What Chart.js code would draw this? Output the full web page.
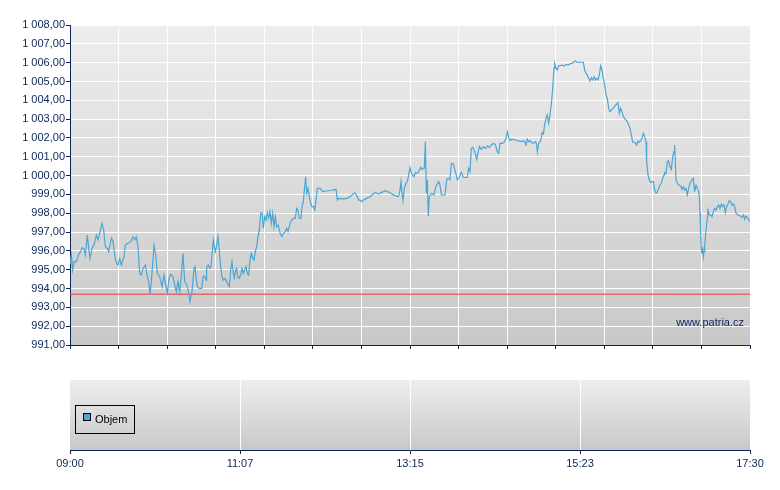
<!DOCTYPE html>
<html>
<head>
<meta charset="utf-8">
<script src="https://cdn.jsdelivr.net/npm/chart.js@4"></script>
<style>
  body { margin: 0; background: #fff; }
  #wrap { position: relative; width: 780px; height: 490px; }
  canvas { position: absolute; left: 0; }
</style>
</head>
<body>
<div id="wrap">
  <canvas id="priceChart" width="780" height="350" style="top:0"></canvas>
  <canvas id="volumeChart" width="780" height="140" style="top:350px"></canvas>
</div>
<script>
// minutes after 09:00 for each trade sample
const minutes = [
  0, 1, 2, 3, 4.75, 6.5, 8, 9, 10.5, 11.5,
  13, 14, 15, 16.5, 18, 19.75, 21, 22.5, 24, 25.25,
  26.5, 28, 29, 31, 32.25, 33.5, 34.75, 36, 37.25, 38.5,
  40.5, 41.5, 43.5, 45.5, 47.25, 48.5, 49.75, 51, 52.25, 53.5,
  54.75, 56.5, 57.75, 59.25, 60, 61, 63, 64.25, 65.5, 67.25,
  69, 70.5, 71.75, 73, 74.25, 75.5, 77.25, 78.5, 79.75, 81,
  82.25, 83.5, 84.75, 86, 87.75, 89, 90, 91.5, 93, 93.75,
  94.5, 95.5, 97, 98.75, 100, 101.25, 102, 102.5, 103.75, 105,
  105.75, 106.5, 107.5, 108.25, 109, 110, 111, 112, 113, 114,
  115, 116.25, 117.5, 118.75, 119.5, 120.5, 121.5, 122.5, 123.25, 124.25,
  125, 125.75, 126.75, 128, 129, 130, 131, 132, 133, 134,
  135, 136, 137, 138, 139, 140, 141, 142, 143, 144,
  145, 146, 147, 148, 149, 150, 151, 152, 153, 154,
  155, 156, 157, 158, 159, 160, 161.5, 162.5, 163.5, 164.5,
  165.5, 166.5, 167.5, 169, 170, 171, 172, 173.25, 174, 175,
  176, 176.75, 177.5, 178.5, 179.5, 180.5, 181.5, 182.5, 183.5, 184.5,
  185.5, 187.5, 189.5, 192.5, 196.25, 199.5, 200.5, 201.5, 205, 207.5,
  210, 212, 213.5, 214.5, 215.5, 216.5, 217.5, 218.75, 220, 222.5,
  225, 227.5, 229, 230, 231.5, 233, 235, 236.5, 238, 240,
  242, 244, 245.5, 246.5, 247.5, 248.25, 249, 249.75, 250.75, 252,
  253, 253.75, 255, 256, 257, 258, 259, 260, 261, 262,
  263, 264, 265, 265.75, 266.5, 267.25, 268, 268.75, 269.5, 271.25,
  273, 274, 275, 276.5, 277.5, 278.5, 279.5, 281.25, 282.5, 284,
  285, 286, 287.5, 289, 290.5, 292, 293.5, 295, 297, 298,
  299, 300, 301, 302, 303, 304, 305, 306, 307, 308.5,
  310, 311.5, 313, 314.5, 316, 317.5, 319, 320.5, 321.5, 322.5,
  324, 325.5, 327, 328, 329, 330, 331.25, 333.75, 336.25, 338.75,
  340.5, 342, 343, 344, 345, 346.25, 347.5, 349, 350, 350.5,
  351.5, 352.5, 353.5, 354, 355, 356, 357, 358, 359, 360,
  361, 362, 363, 363.5, 364.5, 365.5, 366.5, 369, 370.5, 372,
  373.5, 375, 376.5, 378, 379, 380, 381.5, 383, 385, 386,
  387, 388, 389, 390, 391, 392, 393, 394, 395, 396,
  397, 398, 399, 400, 401, 402, 403, 404, 405, 406,
  407, 408, 409, 410, 411, 412, 413, 414, 415, 416,
  417, 418, 419, 420, 421, 422, 423, 424, 425, 426,
  427, 428, 429, 430, 431, 432, 432.5, 433.5, 434.5, 435.5,
  436.5, 437.5, 438.5, 439.5, 440.5, 441.5, 442.5, 443.5, 444.5, 445.5,
  446, 447, 448, 449, 450, 451, 452, 453, 453.5, 454,
  454.5, 455.5, 456.5, 458, 459, 460, 461, 462, 463, 464,
  465, 466.5, 467.5, 468, 468.5, 469.5, 470.5, 471.5, 472, 472.5,
  473, 473.5, 474, 474.5, 475, 475.5, 476, 477, 478, 478.5,
  479.5, 480.5, 481.5, 482.5, 483.5, 484.5, 485.5, 486.5, 487.5, 488.5,
  489.5, 490.5, 491.5, 492.5, 493.5, 494.5, 495.5, 496.5, 497.5, 498.5,
  499.5, 501, 502.5, 504, 505, 506, 507, 508, 509, 510
];

const prices = [
  995.30, 995.78, 994.98, 995.43, 995.43, 995.82, 995.96, 996.17, 996.10, 995.78,
  996.84, 996.13, 995.60, 996.13, 996.31, 996.84, 996.58, 997.02, 997.46, 997.11,
  996.22, 996.13, 995.96, 996.67, 996.52, 995.78, 995.34, 995.25, 995.60, 995.25,
  995.69, 996.31, 996.40, 996.49, 996.76, 996.58, 996.76, 996.22, 994.81, 994.72,
  995.07, 995.25, 994.72, 994.28, 993.66, 994.37, 996.31, 995.78, 994.81, 994.63,
  994.10, 994.72, 994.19, 993.75, 994.54, 994.75, 994.63, 994.19, 993.83, 994.37,
  993.80, 994.72, 995.87, 994.37, 994.19, 993.75, 993.30, 993.83, 995.07, 995.16,
  994.63, 994.10, 994.01, 994.01, 994.66, 994.63, 994.45, 995.16, 995.25, 995.07,
  995.16, 995.78, 996.58, 996.22, 995.96, 996.31, 996.76, 996.05, 995.16, 994.63,
  994.45, 994.54, 994.36, 994.19, 994.10, 994.98, 995.43, 994.81, 994.54, 994.98,
  995.07, 994.63, 994.54, 994.72, 995.07, 994.81, 994.98, 995.16, 994.81, 994.72,
  995.52, 995.87, 995.60, 995.52, 995.96, 996.22, 996.76, 997.11, 997.99, 998.03,
  997.20, 997.82, 997.64, 998.03, 997.73, 998.08, 997.46, 997.99, 997.29, 997.82,
  997.29, 997.37, 997.11, 996.84, 996.76, 996.93, 997.02, 997.20, 997.02, 997.29,
  997.55, 997.64, 997.73, 997.73, 998.26, 998.17, 997.73, 997.73, 998.35, 998.61,
  999.41, 999.94, 999.06, 999.32, 998.88, 998.53, 998.35, 998.35, 998.17, 998.70,
  999.32, 999.32, 999.15, 999.18, 999.22, 999.27, 998.70, 998.79, 998.76, 998.79,
  998.88, 999.00, 999.09, 999.02, 998.88, 998.70, 998.70, 998.61, 998.70, 998.79,
  998.88, 999.02, 999.11, 999.06, 999.02, 999.09, 999.15, 999.20, 999.15, 999.09,
  999.00, 998.93, 998.88, 998.91, 999.23, 999.68, 999.06, 998.67, 999.32, 999.59,
  999.68, 999.94, 1000.42, 1000.12, 1000.03, 999.94, 1000.16, 1000.12, 1000.16, 1000.30,
  1000.44, 1000.33, 1000.39, 1000.39, 1001.80, 999.06, 999.77, 997.85, 998.88, 999.06,
  998.97, 999.32, 999.50, 999.68, 999.50, 998.97, 998.97, 998.97, 999.80, 999.85,
  999.77, 1000.65, 1000.62, 1000.21, 999.77, 999.91, 1000.16, 999.91, 999.89, 999.91,
  1000.39, 1000.21, 1001.45, 1001.50, 1001.36, 1001.18, 1000.86, 1001.18, 1001.54, 1001.39,
  1001.54, 1001.45, 1001.57, 1001.50, 1001.63, 1001.71, 1001.66, 1001.27, 1001.18, 1001.71,
  1001.71, 1001.75, 1001.98, 1002.33, 1002.03, 1001.86, 1001.93, 1001.89, 1001.84, 1001.80,
  1001.86, 1001.62, 1001.93, 1001.80, 1001.86, 1001.75, 1001.71, 1001.80, 1001.68, 1001.27,
  1001.71, 1001.80, 1001.98, 1002.28, 1002.21, 1002.69, 1003.04, 1003.22, 1002.78, 1003.22,
  1003.80, 1004.60, 1005.70, 1005.96, 1005.70, 1005.61, 1005.84, 1005.87, 1005.82, 1005.91,
  1005.87, 1005.94, 1005.96, 1006.05, 1006.09, 1006.02, 1006.02, 1006.02, 1006.02, 1005.61,
  1005.43, 1005.34, 1005.17, 1005.02, 1005.20, 1005.08, 1005.25, 1005.08, 1005.17, 1005.08,
  1005.34, 1005.84, 1005.61, 1005.17, 1004.81, 1004.28, 1004.10, 1003.57, 1003.40, 1003.48,
  1003.57, 1003.61, 1003.75, 1003.78, 1003.89, 1003.31, 1003.57, 1003.40, 1003.13, 1003.04,
  1002.95, 1002.86, 1002.69, 1002.51, 1002.16, 1001.77, 1001.77, 1001.73, 1001.62, 1001.84,
  1001.77, 1001.84, 1001.98, 1002.24, 1002.07, 1001.80, 1000.74, 1000.03, 999.76, 999.64,
  999.68, 999.68, 999.23, 999.06, 999.15, 999.32, 999.50, 999.59, 999.85, 1000.03,
  1000.16, 1000.12, 1000.74, 1000.79, 1000.47, 1000.33, 1001.01, 1001.27, 1001.63, 1000.65,
  999.77, 999.59, 999.50, 999.45, 999.27, 999.41, 999.23, 999.32, 998.97, 999.32,
  999.59, 999.77, 999.85, 999.41, 999.15, 999.50, 999.32, 999.15, 998.88, 998.00,
  996.93, 996.14, 995.87, 996.19, 995.69, 995.96, 996.22, 997.11, 997.73, 998.17,
  997.91, 997.91, 997.82, 998.08, 998.26, 998.17, 998.35, 998.44, 998.26, 998.49,
  998.35, 998.44, 998.03, 998.35, 998.49, 998.67, 998.61, 998.44, 998.49, 998.35,
  998.00, 997.91, 997.85, 997.78, 997.91, 997.68, 997.85, 997.78, 997.64, 997.55
];

const prevClose = 993.70;   // red reference line
const volumes = [];         // "Objem" series is empty on this chart
const timeLabels = ['09:00', '11:07', '13:15', '15:23', '17:30'];
const sessionLength = 510;  // 09:00 - 17:30

const navy = '#0b2559';
const blue = '#4aa6d3';
const font = { family: 'Liberation Sans, Arial, sans-serif', size: 11 };

// 14 grid intervals on the price chart, 4 labelled ones below
const gridMinutes = Array.from({ length: 15 }, (_, i) => i * sessionLength / 14);
const labelMinutes = timeLabels.map((_, i) => i * sessionLength / (timeLabels.length - 1));

function czechNumber(v) {
  const parts = v.toFixed(2).split('.');
  return parts[0].replace(/\B(?=(\d{3})+(?!\d))/g, ' ') + ',' + parts[1];
}

// grey gradient behind the plot area
const plotBackground = {
  id: 'plotBackground',
  beforeDraw(chart) {
    const { ctx, chartArea: a } = chart;
    const g = ctx.createLinearGradient(0, a.top, 0, a.bottom);
    g.addColorStop(0, '#eeeeee');
    g.addColorStop(1, '#c8c8c8');
    ctx.save();
    ctx.fillStyle = g;
    ctx.fillRect(a.left, a.top, a.right - a.left, a.bottom - a.top);
    ctx.restore();
  }
};

const watermark = {
  id: 'watermark',
  afterDraw(chart) {
    const { ctx, chartArea: a } = chart;
    ctx.save();
    ctx.font = '11px ' + font.family;
    ctx.fillStyle = navy;
    ctx.textAlign = 'right';
    ctx.textBaseline = 'middle';
    ctx.fillText('www.patria.cz', a.right - 6, a.bottom - 22);
    ctx.restore();
  }
};

// legend box drawn inside the volume panel
const insideLegend = {
  id: 'insideLegend',
  afterDraw(chart) {
    const { ctx, chartArea: a } = chart;
    const ds = chart.data.datasets[0];
    const x = a.left + 5, y = a.top + 25;
    ctx.save();
    ctx.font = '11px ' + font.family;
    const w = Math.round(ctx.measureText(ds.label).width) + 27;
    ctx.strokeStyle = '#000';
    ctx.lineWidth = 1;
    ctx.strokeRect(x + 0.5, y + 0.5, w, 28);
    ctx.fillStyle = ds.backgroundColor;
    ctx.fillRect(x + 8.5, y + 8.5, 7, 7);
    ctx.strokeRect(x + 8.5, y + 8.5, 7, 7);
    ctx.fillStyle = '#000';
    ctx.textBaseline = 'middle';
    ctx.fillText(ds.label, x + 20, y + 15);
    ctx.restore();
  }
};

new Chart(document.getElementById('priceChart'), {
  type: 'line',
  data: {
    datasets: [
      {
        label: 'Kurz',
        data: minutes.map((m, i) => ({ x: m, y: prices[i] })),
        borderColor: blue,
        borderWidth: 1.2,
        pointRadius: 0,
        tension: 0,
        order: 0
      },
      {
        label: 'Předchozí závěr',
        data: [{ x: 0, y: prevClose }, { x: sessionLength, y: prevClose }],
        borderColor: '#e23b3b',
        borderWidth: 1,
        pointRadius: 0,
        order: 1
      }
    ]
  },
  options: {
    responsive: false,
    animation: false,
    devicePixelRatio: 1,
    layout: { padding: { top: 25, right: 30, left: 0, bottom: 0 } },
    plugins: { legend: { display: false }, tooltip: { enabled: false } },
    scales: {
      x: {
        type: 'linear',
        min: 0,
        max: sessionLength,
        afterBuildTicks: s => { s.ticks = gridMinutes.map(v => ({ value: v })); },
        afterFit: s => { s.height = 5; },
        grid: { color: '#ffffff', lineWidth: 1, tickColor: navy, tickLength: 4 },
        border: { color: navy, width: 1 },
        ticks: { display: false }
      },
      y: {
        min: 991,
        max: 1008,
        afterFit: s => { s.width = 70; s.paddingTop = 0; s.paddingBottom = 0; },
        grid: { color: '#ffffff', lineWidth: 1, tickColor: navy, tickLength: 4 },
        border: { color: navy, width: 1 },
        ticks: { stepSize: 1, autoSkip: false, padding: 1, color: navy, font, callback: v => czechNumber(v) }
      }
    }
  },
  plugins: [plotBackground, watermark]
});

new Chart(document.getElementById('volumeChart'), {
  type: 'bar',
  data: {
    datasets: [{
      label: 'Objem',
      data: volumes,
      backgroundColor: blue,
      borderColor: '#000',
      borderWidth: 1
    }]
  },
  options: {
    responsive: false,
    animation: false,
    devicePixelRatio: 1,
    layout: { padding: { top: 30, right: 30, left: 70, bottom: 0 } },
    plugins: { legend: { display: false }, tooltip: { enabled: false } },
    scales: {
      x: {
        type: 'linear',
        offset: false,
        min: 0,
        max: sessionLength,
        afterBuildTicks: s => { s.ticks = labelMinutes.map(v => ({ value: v })); },
        afterFit: s => { s.height = 40; },
        grid: {
          offset: false,
          color: c => (c.index === 0 || c.index === labelMinutes.length - 1) ? 'rgba(0,0,0,0)' : '#ffffff',
          lineWidth: 1,
          tickColor: navy,
          tickLength: 4
        },
        border: { color: navy, width: 1 },
        ticks: { color: navy, font, padding: 3, maxRotation: 0, callback: (v, i) => timeLabels[i] }
      },
      y: { display: false, min: 0, max: 1 }
    }
  },
  plugins: [plotBackground, insideLegend]
});
</script>
</body>
</html>
